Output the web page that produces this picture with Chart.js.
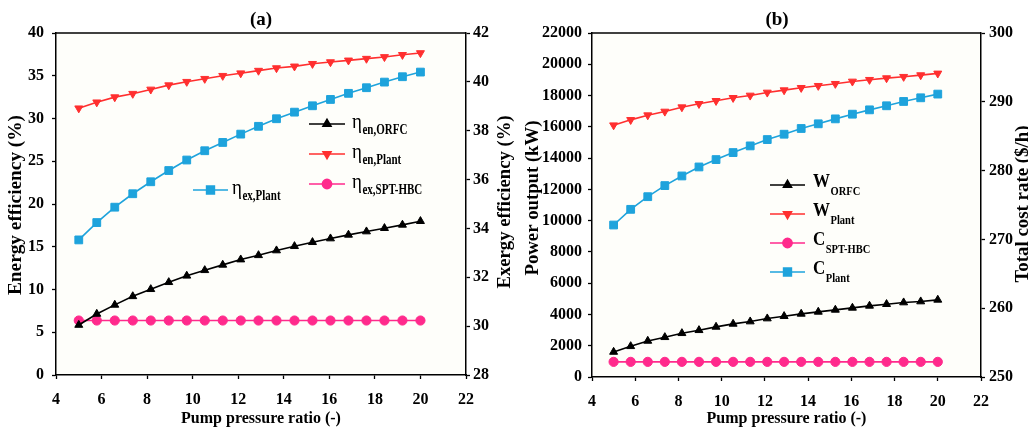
<!DOCTYPE html>
<html>
<head>
<meta charset="utf-8">
<script src="https://cdn.jsdelivr.net/npm/chart.js@4.4.1/dist/chart.umd.min.js"></script>
<style>
  html, body { margin: 0; padding: 0; background: #ffffff; }
  #wrap { position: relative; width: 1028px; height: 433px; overflow: hidden; }
  .box { position: absolute; top: 0; width: 514px; height: 433px; }
  #boxA { left: 0; }
  #boxB { left: 514px; }
</style>
</head>
<body>
<div id="wrap">
  <div class="box" id="boxA"><canvas id="chartA" width="514" height="433"></canvas></div>
  <div class="box" id="boxB"><canvas id="chartB" width="514" height="433"></canvas></div>
</div>
<script>
// ---------------- DATA ----------------
const pressureRatio = [5, 5.79, 6.58, 7.37, 8.16, 8.95, 9.74, 10.53, 11.32, 12.11, 12.89, 13.68, 14.47, 15.26, 16.05, 16.84, 17.63, 18.42, 19.21, 20];

// (a) efficiencies
const etaEnORFC   = [5.85, 7.14, 8.2, 9.2, 10.03, 10.85, 11.6, 12.25, 12.88, 13.5, 14.0, 14.56, 15.06, 15.53, 15.96, 16.39, 16.78, 17.17, 17.56, 17.99];
const etaEnPlant  = [31.2, 31.9, 32.5, 32.9, 33.4, 33.9, 34.3, 34.65, 35.0, 35.3, 35.6, 35.9, 36.1, 36.4, 36.6, 36.8, 37.0, 37.2, 37.45, 37.66];
const etaExSPTHBC = [30.23, 30.23, 30.23, 30.23, 30.23, 30.23, 30.23, 30.23, 30.23, 30.23, 30.23, 30.23, 30.23, 30.23, 30.23, 30.23, 30.23, 30.23, 30.23, 30.23];
const etaExPlant  = [33.53, 34.24, 34.87, 35.42, 35.91, 36.37, 36.8, 37.18, 37.52, 37.86, 38.18, 38.49, 38.76, 39.02, 39.28, 39.53, 39.76, 39.99, 40.21, 40.4];

// (b) power and cost
const wORFC    = [1602, 1965, 2307, 2542, 2798, 2990, 3204, 3396, 3546, 3738, 3887, 4037, 4165, 4293, 4421, 4549, 4656, 4763, 4827, 4934];
const wPlant   = [16105, 16445, 16745, 16980, 17257, 17470, 17663, 17855, 18005, 18197, 18346, 18496, 18625, 18753, 18902, 19009, 19116, 19202, 19308, 19415];
const cSPTHBC  = [252.2, 252.2, 252.2, 252.2, 252.2, 252.2, 252.2, 252.2, 252.2, 252.2, 252.2, 252.2, 252.2, 252.2, 252.2, 252.2, 252.2, 252.2, 252.2, 252.2];
const cPlant   = [272.09, 274.37, 276.21, 277.82, 279.22, 280.53, 281.6, 282.62, 283.59, 284.51, 285.29, 286.12, 286.8, 287.52, 288.2, 288.83, 289.42, 290.05, 290.58, 291.12];

// labels [main, subscript]
const labelsA = [['\u03B7', 'en,ORFC'], ['\u03B7', 'en,Plant'], ['\u03B7', 'ex,SPT-HBC'], ['\u03B7', 'ex,Plant']];
const labelsB = [['W', 'ORFC'], ['W', 'Plant'], ['C', 'SPT-HBC'], ['C', 'Plant']];

const titleA = '(a)';
const titleB = '(b)';
const xTitle = 'Pump pressure ratio (-)';
const yLeftTitleA = 'Energy efficiency (%)';
const yRightTitleA = 'Exergy efficiency (%)';
const yLeftTitleB = 'Power output (kW)';
const yRightTitleB = 'Total cost rate ($/h)';

// ---------------- STYLE ----------------
const FONT = "'Liberation Serif', 'Times New Roman', serif";
const BLACK = '#000000', RED = '#ff2f2f', PINK = '#ff2a8c', BLUE = '#1ea3dc';

function pts(ys) { return pressureRatio.map((x, i) => ({ x: x, y: ys[i] })); }

function ds(label, data, color, style, rot, r, axis) {
  return {
    label: label, data: pts(data), yAxisID: axis,
    borderColor: color, backgroundColor: color, borderWidth: 1.6,
    pointStyle: style, pointRotation: rot, pointRadius: r, pointHoverRadius: r,
    pointBackgroundColor: color, pointBorderColor: color, pointBorderWidth: 1,
    tension: 0, fill: false
  };
}

function vText(ctx, text, cx, cy, len) {
  ctx.save();
  ctx.translate(cx, cy);
  ctx.rotate(-Math.PI / 2);
  ctx.font = 'bold 18px ' + FONT;
  ctx.textAlign = 'center'; ctx.textBaseline = 'middle';
  const w = ctx.measureText(text).width;
  ctx.scale(len / w, 1);
  ctx.fillStyle = '#000';
  ctx.fillText(text, 0, 0);
  ctx.restore();
}

// text stretched vertically (the source figure is slightly taller than wide)
function tallText(ctx, text, x, y, font, sy) {
  ctx.save();
  ctx.font = font;
  ctx.translate(x, y);
  ctx.scale(1, sy);
  ctx.fillText(text, 0, 0);
  const w = ctx.measureText(text).width;
  ctx.restore();
  return w;
}

const deco = {
  id: 'deco',
  afterDraw(chart, args, o) {
    const ctx = chart.ctx, a = chart.chartArea;
    ctx.save();
    // top frame line
    ctx.strokeStyle = '#000'; ctx.lineWidth = 1.5;
    ctx.beginPath(); ctx.moveTo(a.left, a.top); ctx.lineTo(a.right, a.top); ctx.stroke();
    // title
    ctx.fillStyle = '#000';
    ctx.font = 'bold 19px ' + FONT;
    ctx.textAlign = 'center'; ctx.textBaseline = 'middle';
    ctx.fillText(o.title, o.titleX, o.titleY);
    // axis titles (both read bottom-to-top)
    vText(ctx, o.leftTitle, o.ltX, o.ltY, o.ltLen);
    vText(ctx, o.rightTitle, o.rtX, o.rtY, o.rtLen);
    // legend
    o.entries.forEach(e => {
      const d = chart.data.datasets[e.ds];
      ctx.strokeStyle = d.borderColor; ctx.lineWidth = d.borderWidth;
      ctx.beginPath(); ctx.moveTo(e.x1, e.y); ctx.lineTo(e.x2, e.y); ctx.stroke();
      ctx.fillStyle = d.pointBackgroundColor; ctx.strokeStyle = d.pointBorderColor;
      Chart.helpers.drawPoint(ctx, { pointStyle: d.pointStyle, rotation: d.pointRotation || 0, radius: d.pointRadius, borderWidth: 1 }, (e.x1 + e.x2) / 2, e.y);
      const lab = o.labels[e.ds];
      ctx.fillStyle = '#000'; ctx.textAlign = 'left'; ctx.textBaseline = 'alphabetic';
      const w = tallText(ctx, lab[0], e.tx, e.y + o.mainDy, o.mainFont, o.mainSy);
      tallText(ctx, lab[1], e.tx + w + 0.5, e.y + o.subDy, o.subFont, 1.25);
    });
    ctx.restore();
  }
};

const plotBg = {
  id: 'plotBg',
  beforeDraw(chart) {
    const ctx = chart.ctx, a = chart.chartArea;
    ctx.save(); ctx.fillStyle = '#fefefa';
    ctx.fillRect(a.left, a.top, a.right - a.left, a.bottom - a.top);
    ctx.restore();
  }
};

function axisY(pos, min, max, step, width, pad) {
  return {
    type: 'linear', position: pos, min: min, max: max,
    afterFit: s => { s.width = width; },
    grid: { drawOnChartArea: false, drawTicks: true, tickLength: 4, tickWidth: 1.3, tickColor: '#000' },
    border: { display: true, color: '#000', width: 1.5 },
    ticks: { stepSize: step, color: '#000', padding: pad, font: { family: FONT, size: 16, weight: 'bold' }, callback: v => String(v) },
    title: { display: false }
  };
}

function axisX(height) {
  return {
    type: 'linear', position: 'bottom', min: 4, max: 22,
    afterFit: s => { s.height = height; },
    grid: { drawOnChartArea: false, drawTicks: true, tickLength: 4, tickWidth: 1.3, tickColor: '#000' },
    border: { display: true, color: '#000', width: 1.5 },
    ticks: { stepSize: 2, color: '#000', padding: 11, maxRotation: 0, font: { family: FONT, size: 16, weight: 'bold' }, callback: v => String(v) },
    title: { display: true, text: xTitle, color: '#000', font: { family: FONT, size: 16, weight: 'bold' }, padding: { top: 0, bottom: 5 } }
  };
}

function baseOptions(scales, decoOpts) {
  return {
    responsive: false, animation: false, devicePixelRatio: 1,
    layout: { padding: { top: 33, left: 0, right: 0, bottom: 0 } },
    plugins: { legend: { display: false }, title: { display: false }, tooltip: { enabled: false }, deco: decoOpts },
    scales: scales
  };
}

new Chart(document.getElementById('chartA'), {
  type: 'line',
  data: {
    datasets: [
      ds(labelsA[0].join(''), etaEnORFC, BLACK, 'triangle', 0, 4.6, 'yL'),
      ds(labelsA[1].join(''), etaEnPlant, RED, 'triangle', 180, 4.6, 'yL'),
      ds(labelsA[2].join(''), etaExSPTHBC, PINK, 'circle', 0, 4.6, 'yR'),
      ds(labelsA[3].join(''), etaExPlant, BLUE, 'rect', 0, 5.5, 'yR')
    ]
  },
  options: baseOptions({
    x: axisX(58),
    yL: axisY('left', 0, 40, 5, 56, 8),
    yR: axisY('right', 28, 42, 2, 48, 3)
  }, {
    title: titleA, titleX: 261, titleY: 20,
    leftTitle: yLeftTitleA, ltX: 16, ltY: 205, ltLen: 180,
    rightTitle: yRightTitleA, rtX: 505, rtY: 202, rtLen: 173,
    labels: labelsA, mainFont: '19px ' + FONT, mainSy: 1.15, subFont: 'bold 11px ' + FONT, mainDy: 4, subDy: 10,
    entries: [
      { ds: 0, x1: 309, x2: 345, y: 124, tx: 352 },
      { ds: 1, x1: 309, x2: 345, y: 154, tx: 352 },
      { ds: 2, x1: 309, x2: 345, y: 184, tx: 352 },
      { ds: 3, x1: 193, x2: 228, y: 190, tx: 232 }
    ]
  }),
  plugins: [plotBg, deco]
});

new Chart(document.getElementById('chartB'), {
  type: 'line',
  data: {
    datasets: [
      ds(labelsB[0].join(''), wORFC, BLACK, 'triangle', 0, 4.6, 'yL'),
      ds(labelsB[1].join(''), wPlant, RED, 'triangle', 180, 4.6, 'yL'),
      ds(labelsB[2].join(''), cSPTHBC, PINK, 'circle', 0, 4.6, 'yR'),
      ds(labelsB[3].join(''), cPlant, BLUE, 'rect', 0, 5.5, 'yR')
    ]
  },
  options: baseOptions({
    x: axisX(56),
    yL: axisY('left', 0, 22000, 2000, 78, 6),
    yR: axisY('right', 250, 300, 10, 47, 4)
  }, {
    title: titleB, titleX: 263, titleY: 20,
    leftTitle: yLeftTitleB, ltX: 19, ltY: 198, ltLen: 155,
    rightTitle: yRightTitleB, rtX: 509, rtY: 204, rtLen: 157,
    labels: labelsB, mainFont: 'bold 17px ' + FONT, mainSy: 1.1, subFont: 'bold 10.5px ' + FONT, mainDy: 2, subDy: 10,
    entries: [
      { ds: 0, x1: 256, x2: 291, y: 185, tx: 299 },
      { ds: 1, x1: 256, x2: 291, y: 214, tx: 299 },
      { ds: 2, x1: 256, x2: 291, y: 243, tx: 299 },
      { ds: 3, x1: 256, x2: 291, y: 272, tx: 299 }
    ]
  }),
  plugins: [plotBg, deco]
});
</script>
</body>
</html>
